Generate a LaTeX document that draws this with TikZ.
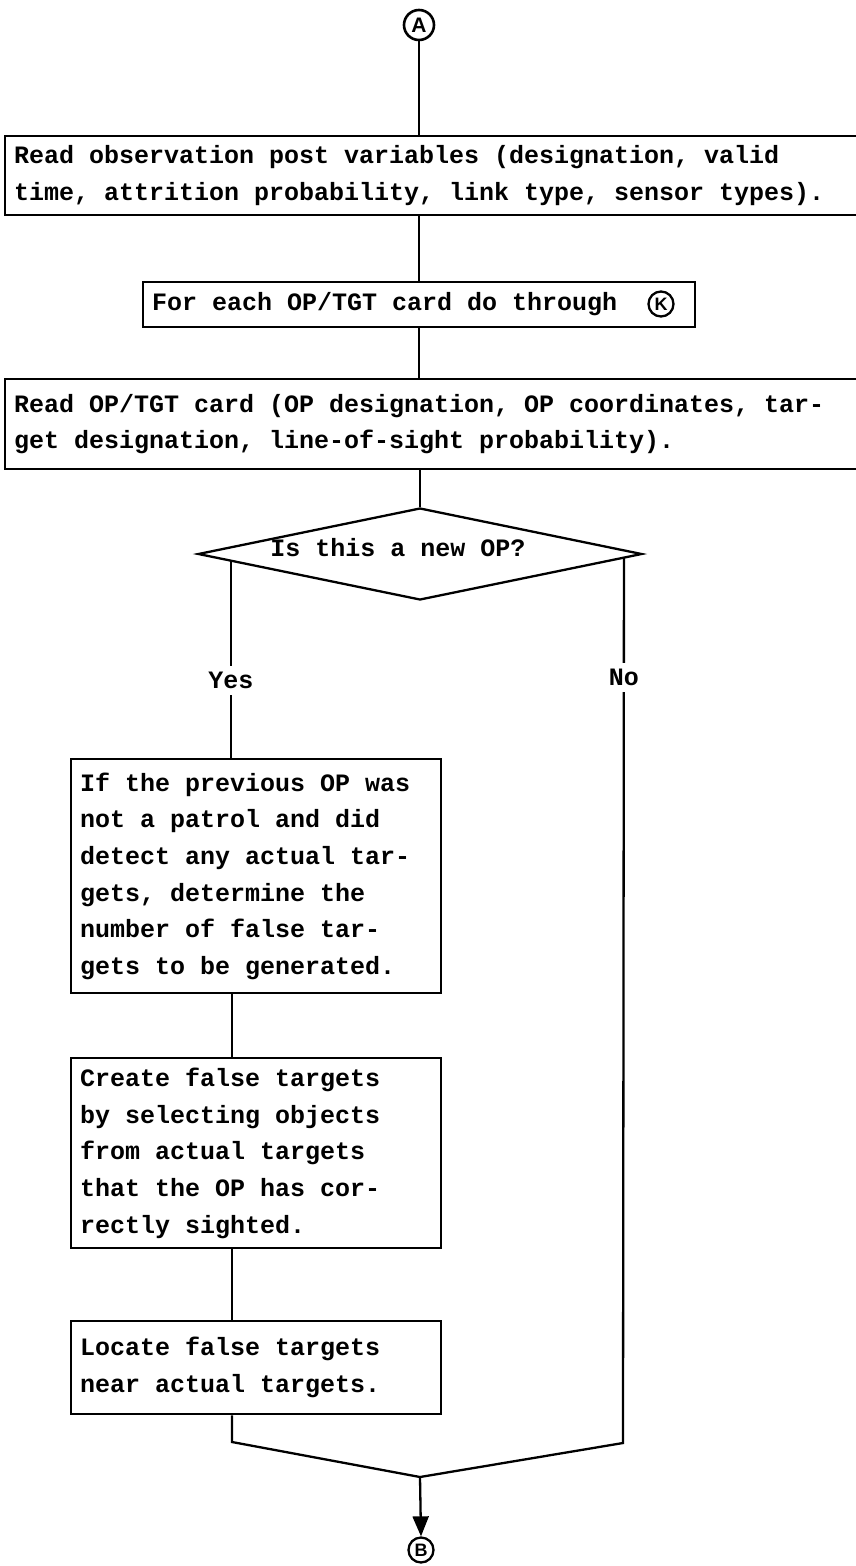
\documentclass[tikz,border=0pt]{standalone}
\usepackage{fontspec}
\setmainfont{Liberation Mono}
\newfontfamily\circfont{Liberation Sans}
\usetikzlibrary{shapes.geometric,calc,arrows.meta}
% typewriter-pitch text: fixed 15pt spaces, no stretch or shrink
\newcommand\twfont{\fontsize{25}{36.7}\selectfont\bfseries
  \fontdimen2\font=15pt\fontdimen3\font=0pt\fontdimen4\font=0pt\fontdimen7\font=0pt\frenchspacing}
\begin{document}
\begin{tikzpicture}[x=1pt,y=-1pt,
  every node/.style={font=\twfont},
  flow/.style={line width=2.3pt},
  procbox/.style={draw, line width=2.3pt, rectangle, inner xsep=9pt, inner ysep=0pt, align=flush left},
  decide/.style={draw, diamond, line width=2.3pt, shape aspect=4.8, inner sep=0pt},
  circ/.style={circle, draw, line width=2.3pt, inner sep=0pt, minimum size=25pt,
    font=\circfont\bfseries\fontsize{18}{18}\selectfont},
  lbl/.style={fill=white, inner xsep=2pt, inner ysep=6pt}
]
\useasboundingbox (0,0) rectangle (855,1566);

% connector entry
\node[circ, minimum size=30pt, line width=2.6pt, font=\circfont\bfseries\fontsize{21}{21}\selectfont] (A) at (419,25) {A};

% process steps
\node[procbox, anchor=north west, minimum width=880pt, minimum height=79pt, text width=862pt] (b1) at (4,135)
  {Read observation post variables (designation, valid\\time, attrition probability, link type, sensor types).};

\node[procbox, minimum width=552pt, minimum height=45pt, text width=534pt] (b2) at (419,304.5)
  {For each OP/TGT card do through};
\node[circ] (k) at (661,304) {K};

\node[procbox, anchor=north west, minimum width=880pt, minimum height=90pt, text width=862pt] (b3) at (4,378)
  {Read OP/TGT card (OP designation, OP coordinates, tar-\\get designation, line-of-sight probability).};

\node[decide, minimum width=444pt, minimum height=92pt,
  label={[xshift=-22pt,yshift=6pt]center:Is this a new OP?}] (dia) at (420,554) {};

\node[procbox, anchor=north west, minimum width=370pt, minimum height=234pt, text width=352pt] (b4) at (70,758)
  {If the previous OP was\\not a patrol and did\\detect any actual tar-\\gets, determine the\\number of false tar-\\gets to be generated.};

\node[procbox, anchor=north west, minimum width=370pt, minimum height=190pt, text width=352pt] (b5) at (70,1057)
  {Create false targets\\by selecting objects\\from actual targets\\that the OP has cor-\\rectly sighted.};

\node[procbox, anchor=north west, minimum width=370pt, minimum height=93pt, text width=352pt] (b6) at (70,1320)
  {Locate false targets\\near actual targets.};

% connector exit
\node[circ] (B) at (421,1550) {B};

% branch points
\coordinate (yes0) at ($(dia.west)!0.153!(dia.south)$);
\coordinate (no0) at ($(dia.east)!0.086!(dia.south)$);
\coordinate (colY) at (232,0);
\coordinate (lc) at (232,1442);
\coordinate (rc) at (623,1443);
\coordinate (m) at (420,1477);

% connectors
\draw[flow] (A.south) -- (A.south |- b1.north);
\draw[flow] (b1.south -| b2.north) -- (b2.north);
\draw[flow] (b2.south) -- (b2.south |- b3.north);
\draw[flow] (b3.south -| dia.north) -- (dia.north);
\draw[flow] (yes0) -- node[lbl, pos=0.607] {Yes} (yes0 |- b4.north);
\draw[flow] (b4.south -| colY) -- (b5.north -| colY);
\draw[flow] (b5.south -| colY) -- (b6.north -| colY);
\draw[flow] (b6.south -| lc) -- (lc) -- (m) -- (rc) -- node[lbl, pos=0.865] {No} (no0);
\draw[flow, -{Triangle[width=16pt,length=20pt]}] (m) -- (B.north);
\end{tikzpicture}
\end{document}
